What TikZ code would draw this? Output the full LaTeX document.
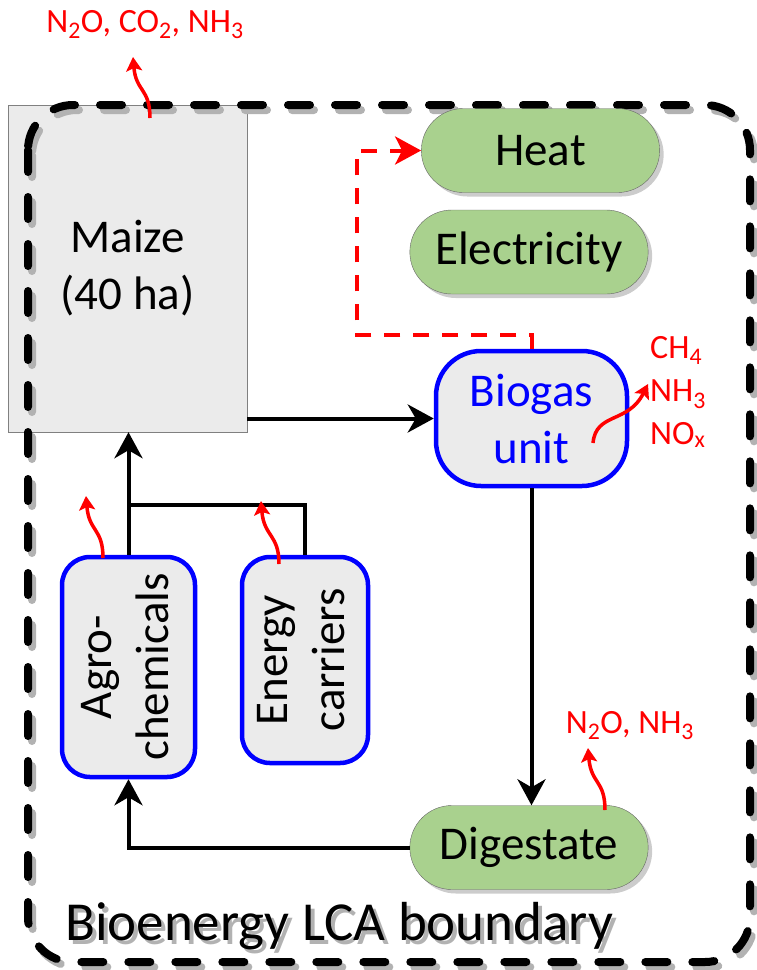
\documentclass[tikz,border=0pt]{standalone}
\usepackage{fontspec}
\setmainfont{Carlito}
\usepackage{graphicx}
\usetikzlibrary{arrows.meta,positioning,shapes.misc,shadows}
\definecolor{pillgreen}{HTML}{A9D18E}
\definecolor{boxgray}{HTML}{EBEBEB}

\begin{document}
\begin{tikzpicture}[x=1pt,y=-1pt,
  big/.style={font=\fontsize{47}{57}\selectfont},
  gas/.style={font=\fontsize{34}{43}\selectfont,text=red,inner sep=0pt},
  pill/.style={rounded rectangle,draw=black!60,fill=pillgreen,minimum width=245pt,minimum height=84pt,big,
    drop shadow={shadow xshift=4pt,shadow yshift=-4pt,fill=black,opacity=.2}},
  unit/.style={draw=blue,line width=4.5pt,fill=boxgray,big,align=center,inner sep=0pt},
  flow/.style={line width=4pt,-{Stealth[length=26pt,width=28pt,inset=8pt]}},
  feed/.style={line width=4pt},
  emit/.style={red,line width=3.5pt,-{Stealth[length=14pt,width=16pt,inset=3pt]}},
  heatflow/.style={red,line width=4pt,dash pattern=on 16pt off 13pt,-{Stealth[length=26pt,width=28pt,inset=7pt]}},
  bound/.style={line width=8pt,dash pattern=on 22pt off 25pt,line cap=round,rounded corners=45pt},
  lcatext/.style={font=\fontsize{55}{60}\selectfont,anchor=base west,inner sep=0pt}]
\useasboundingbox (0,0) rectangle (756,970);

% field and system boundary
\node[rectangle,draw=black!50,fill=boxgray,minimum width=239pt,minimum height=327pt,big,align=center] (maize) at (127.5,268.5) {Maize\\(40 ha)};
\draw[bound,black!30,shift={(4,5)}] (28,105) rectangle (750,962);
\draw[bound] (28,105) rectangle (750,962);
\node[lcatext,text=black!30] at (69,944) {Bioenergy LCA boundary};
\node[lcatext] (lca) at (65,940) {Bioenergy LCA boundary};

% products and units
\node[pill] (heat) at (540.5,150.5) {Heat};
\node[pill] (elec) at (529,252) {Electricity};
\node[pill] (digest) at (529,847.5) {Digestate};
\node[unit,rounded corners=45pt,minimum width=191pt,minimum height=135pt,text=blue] (biogas) at (531.5,418.5) {Biogas\\unit};
\node[unit,rounded corners=28pt,minimum width=133pt,minimum height=220pt] (agro) at (128.5,667) {\rotatebox{90}{\begin{tabular}{@{}c@{}}Agro-\\chemicals\end{tabular}}};
\node[unit,rounded corners=28pt,minimum width=126pt,minimum height=206pt] (energy) at (305,660) {\rotatebox{90}{\begin{tabular}{@{}c@{}}Energy\\carriers\end{tabular}}};

% material flows
\coordinate (join) at (128.5,505);
\coordinate (hbend) at (357,335);
\draw[flow] (maize.east |- biogas.west) -- (biogas.west);
\draw[flow] (biogas.south) -- (biogas.south |- digest.north);
\draw[flow] (digest.west) -| (agro.south);
\draw[flow] (agro.north) -- (agro.north |- maize.south);
\draw[feed] (energy.north) |- (join);
\draw[heatflow] (biogas.north) |- (hbend) |- (heat.west);

% emissions
\coordinate (maize-src) at (150,118);   \coordinate (maize-gas) at (133,57);
\coordinate (agro-src) at (103,558);    \coordinate (agro-gas) at (86,496);
\coordinate (energy-src) at (279,564);  \coordinate (energy-gas) at (261,501);
\coordinate (digest-src) at (605,810);  \coordinate (digest-gas) at (588,748);
\coordinate (biogas-src) at (593,443);  \coordinate (biogas-gas) at (648,384);
\draw[emit] (maize-src) .. controls (150,88) and (136,92) .. (maize-gas);
\draw[emit] (agro-src) .. controls (103,528) and (89,532) .. (agro-gas);
\draw[emit] (energy-src) .. controls (279,534) and (264,537) .. (energy-gas);
\draw[emit] (digest-src) .. controls (605,780) and (591,784) .. (digest-gas);
\draw[emit] (biogas-src) .. controls (596,412) and (628,424) .. (biogas-gas);
\node[gas,anchor=base] (maize-lbl) at (145,32) {N\textsubscript{2}O, CO\textsubscript{2}, NH\textsubscript{3}};
\node[gas,align=left,anchor=west] (biogas-lbl) at (650,392) {CH\textsubscript{4}\\NH\textsubscript{3}\\NO\textsubscript{x}};
\node[gas,anchor=base] (digest-lbl) at (630,733) {N\textsubscript{2}O, NH\textsubscript{3}};
\end{tikzpicture}
\end{document}
